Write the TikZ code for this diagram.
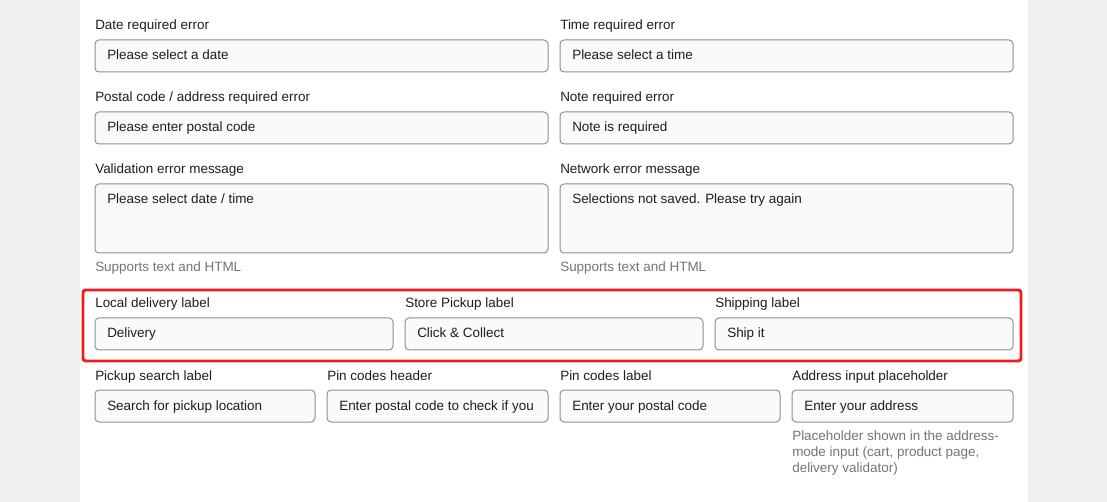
\documentclass[tikz,border=0pt]{standalone}
\usepackage{fontspec}
\setmainfont{Liberation Sans}
\definecolor{pagegray}{HTML}{F0F0F1}
\definecolor{boxline}{HTML}{8C8F94}
\definecolor{boxfill}{HTML}{FAFAFA}
\definecolor{ink}{HTML}{1E1E1E}
\definecolor{hintgray}{HTML}{757575}
\definecolor{alertred}{HTML}{F21C1C}

% one labelled input: name, left, right, top, bottom, label, value
\newcommand{\field}[7]{%
  \node [lbl] (#1l) at (#2,#4-10) {#6};
  \draw [fieldbox] (#2,#4) rectangle (#3,#5);
  \begin{scope}
    \clip (#2+1,#4) rectangle (#3-1,#5);
    \node [val] (#1v) at (#2+12,#4+20) {#7};
  \end{scope}
}

\begin{document}
\begin{tikzpicture}[x=0.75pt,y=-0.75pt,
  lbl/.style={anchor=base west,inner sep=0,text=ink,font=\fontsize{10.1pt}{12pt}\selectfont},
  val/.style={anchor=base west,inner sep=0,text=ink,font=\fontsize{10.1pt}{12pt}\selectfont},
  hint/.style={anchor=base west,inner sep=0,text=hintgray,font=\fontsize{10.1pt}{12pt}\selectfont},
  fieldbox/.style={draw=boxline,fill=boxfill,rounded corners=3pt,line width=0.75pt}]

\fill [pagegray] (0,0) rectangle (1107,502);
\fill [white] (80,0) rectangle (1028,502);
\useasboundingbox (0,0) rectangle (1107,502);

\field{daterr}{95}{548}{40}{72}{Date required error}{Please select a date}
\field{timerr}{560}{1013}{40}{72}{Time required error}{Please select a time}
\field{posterr}{95}{548}{112}{144}{Postal code / address required error}{Please enter postal code}
\field{noterr}{560}{1013}{112}{144}{Note required error}{Note is required}
\field{validerr}{95}{548}{184}{253}{Validation error message}{Please select date / time}
\field{neterr}{560}{1013}{184}{253}{Network error message}{Selections not saved. Please try again}
\node [hint] (validhint) at (95,272) {Supports text and HTML};
\node [hint] (nethint) at (560,272) {Supports text and HTML};

\draw [alertred,line width=2.2pt,rounded corners=2pt] (83,290) rectangle (1021,361);
\field{localdel}{95}{393}{318}{350}{Local delivery label}{Delivery}
\field{storepick}{405}{703}{318}{350}{Store Pickup label}{Click \& Collect}
\field{shiplbl}{715}{1013}{318}{350}{Shipping label}{Ship it}

\field{pksearch}{95}{315}{390}{422}{Pickup search label}{Search for pickup location}
\field{pinhead}{327}{548}{390}{422}{Pin codes header}{Enter postal code to check if you}
\field{pinlbl}{560}{780}{390}{422}{Pin codes label}{Enter your postal code}
\field{addrin}{792}{1013}{390}{422}{Address input placeholder}{Enter your address}
\node [hint] (addrhint1) at (792,440) {Placeholder shown in the address-};
\node [hint] (addrhint2) at (792,456) {mode input (cart, product page,};
\node [hint] (addrhint3) at (792,472) {delivery validator)};
\end{tikzpicture}
\end{document}
